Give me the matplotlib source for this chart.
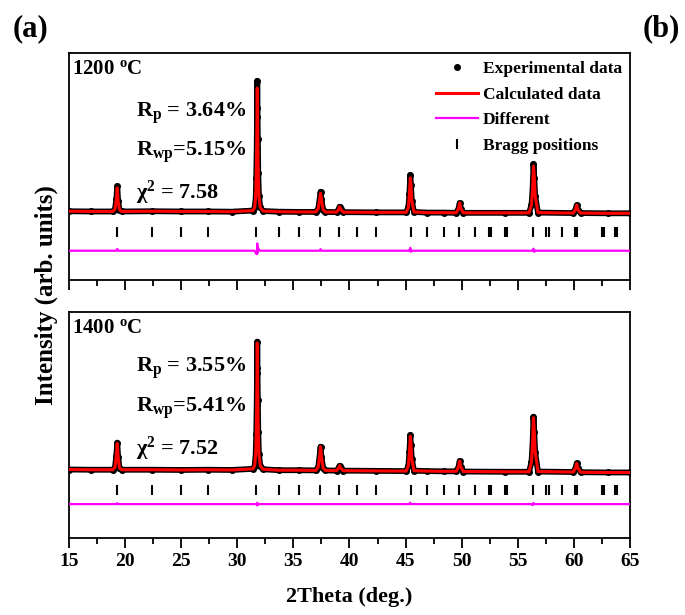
import matplotlib
matplotlib.use("Agg")
import numpy as np
import matplotlib.pyplot as plt

plt.rcParams["font.family"] = ["Liberation Serif", "DejaVu Serif"]
plt.rcParams["font.weight"] = "bold"
plt.rcParams["axes.labelweight"] = "bold"
plt.rcParams["mathtext.fontset"] = "custom"
plt.rcParams["mathtext.rm"] = "Liberation Serif:bold"
plt.rcParams["mathtext.it"] = "Liberation Serif:bold:italic"
plt.rcParams["mathtext.bf"] = "Liberation Serif:bold"

# 2theta grid (deg.) shared by both patterns
tth = [15.0, 17.0, 18.9, 19.1, 19.22, 19.3, 19.38, 19.5, 19.7, 22.4, 25.0, 27.4,
       29.5, 31.4, 31.55, 31.64, 31.69, 31.73, 31.76, 31.78, 31.80, 31.83, 31.87,
       31.93, 32.05, 32.3, 33.7, 35.5, 37.0, 37.22, 37.35, 37.42, 37.5, 37.65,
       37.85, 38.85, 39.05, 39.12, 39.2, 39.45, 42.4, 45.05, 45.25, 45.34, 45.42,
       45.48, 45.55, 45.75, 46.9, 48.4, 49.5, 49.72, 49.82, 49.92, 50.15, 53.9,
       56.0, 56.22, 56.32, 56.4, 56.47, 56.55, 56.8, 59.95, 60.15, 60.25, 60.35,
       60.6, 63.0, 65.0]

obs_1200 = [30.3, 30.2, 30.2, 31.2, 35.5, 41.4, 35.0, 31.0, 30.2, 30.3, 30.2, 30.2,
            30.1, 30.6, 32.0, 36.0, 45.0, 58.0, 72.0, 87.8, 76.0, 62.0, 47.0,
            37.0, 32.0, 30.4, 30.1, 30.0, 30.0, 31.5, 36.0, 38.9, 35.5, 31.0,
            30.0, 29.9, 31.3, 32.3, 31.2, 29.9, 29.8, 29.8, 32.0, 38.0, 46.3,
            42.0, 35.0, 30.0, 29.7, 29.7, 29.6, 31.5, 34.0, 31.5, 29.6, 29.6,
            29.6, 33.0, 40.0, 51.1, 45.0, 37.0, 29.7, 29.5, 31.2, 33.0, 31.0,
            29.5, 29.4, 29.4]
calc_1200 = [30.3, 30.2, 30.2, 31.2, 35.5, 40.6, 35.0, 31.0, 30.2, 30.3, 30.2, 30.2,
             30.1, 30.6, 32.0, 37.0, 46.0, 59.5, 73.5, 84.6, 77.0, 61.0, 46.0,
             36.5, 32.0, 30.4, 30.1, 30.0, 30.0, 31.5, 36.0, 38.2, 35.5, 31.0,
             30.0, 29.9, 31.3, 32.3, 31.2, 29.9, 29.8, 29.8, 32.0, 38.0, 45.0,
             42.5, 35.0, 30.0, 29.7, 29.7, 29.6, 31.5, 34.0, 31.5, 29.6, 29.6,
             29.6, 33.0, 40.0, 50.2, 45.5, 37.0, 29.7, 29.5, 31.2, 33.0, 31.0,
             29.5, 29.4, 29.4]
obs_1400 = [30.3, 30.2, 30.2, 31.3, 36.5, 42.2, 36.0, 31.0, 30.2, 30.2, 30.1, 30.2,
            30.1, 30.6, 32.0, 37.0, 46.0, 59.0, 73.0, 86.9, 75.0, 61.0, 47.0,
            37.0, 32.0, 30.4, 30.0, 30.0, 29.9, 31.5, 37.0, 40.4, 36.0, 31.0,
            29.9, 29.8, 31.2, 32.0, 31.0, 29.8, 29.7, 29.6, 32.0, 38.0, 45.6,
            41.0, 35.0, 29.8, 29.6, 29.5, 29.5, 31.5, 34.1, 31.5, 29.4, 29.3,
            29.3, 33.5, 42.0, 53.7, 47.0, 38.0, 29.4, 29.2, 31.0, 33.0, 31.0,
            29.1, 29.0, 29.0]
calc_1400 = [30.3, 30.2, 30.2, 31.3, 36.5, 41.8, 36.0, 31.0, 30.2, 30.2, 30.1, 30.2,
             30.1, 30.6, 32.0, 37.0, 46.0, 59.0, 73.5, 86.3, 75.5, 61.0, 47.0,
             37.0, 32.0, 30.4, 30.0, 30.0, 29.9, 31.5, 37.0, 40.4, 36.0, 31.0,
             29.9, 29.8, 31.2, 32.0, 31.0, 29.8, 29.7, 29.6, 32.0, 38.0, 45.0,
             41.0, 35.0, 29.8, 29.6, 29.5, 29.5, 31.5, 34.1, 31.5, 29.4, 29.3,
             29.3, 33.5, 42.5, 53.2, 47.0, 38.0, 29.4, 29.2, 31.0, 33.0, 31.0,
             29.1, 29.0, 29.0]
diff_offset = [12.9, 15.0]

bragg = [19.3, 22.4, 25.0, 27.4, 31.7, 33.7, 35.5, 37.4, 39.1, 40.7, 42.4, 45.45,
         46.9, 48.4, 49.8, 51.15, 52.45, 52.6, 53.85, 54.05, 56.4, 57.55, 57.75,
         58.9, 60.12, 60.28, 62.5, 62.7, 63.65, 63.85]
bragg_y = 21.3

temps = ["1200 $^{\\rm o}$C", "1400 $^{\\rm o}$C"]
rp = ["3.64%", "3.55%"]
rwp = ["5.15%", "5.41%"]
chi2 = ["7.58", "7.52"]

fig = plt.figure(figsize=(6.85, 6.15), dpi=100)
ax_top = fig.add_axes([0.1007, 0.5447, 0.819, 0.369])
ax_bot = fig.add_axes([0.1007, 0.1252, 0.819, 0.3675])

panels = [(ax_top, obs_1200, calc_1200), (ax_bot, obs_1400, calc_1400)]
stat_y = [(0.72, 0.546, 0.36), (0.736, 0.559, 0.37)]

for i, (ax, obs, calc) in enumerate(panels):
    obs = np.array(obs)
    calc = np.array(calc)
    ax.plot(tth, obs, color="k", lw=4.2, solid_joinstyle="round", zorder=2)
    h_obs, = ax.plot(tth, obs, "o", color="k", ms=4, ls="none", zorder=2,
                     label="Experimental data")
    h_calc, = ax.plot(tth, calc, color="#ff0000", lw=2.2, zorder=3,
                      label="Calculated data")
    h_diff, = ax.plot(tth, obs - calc + diff_offset[i], color="#ff00ff", lw=1.6,
                      zorder=3, label="Different")
    h_bragg, = ax.plot(bragg, [bragg_y] * len(bragg), ls="none", marker="|",
                       ms=7.5, mew=1.5, color="k", label="Bragg positions")

    ax.set_xlim(15, 65)
    ax.set_ylim(0, 100)
    ax.set_yticks([])
    ax.set_xticks(np.arange(15, 66, 5))
    ax.set_xticks(np.arange(17.5, 65, 5), minor=True)
    ax.tick_params(axis="x", which="major", direction="out", length=7, width=1.3,
                   labelsize=14, pad=4)
    ax.tick_params(axis="x", which="minor", direction="out", length=4, width=1.3)
    for s in ax.spines.values():
        s.set_linewidth(1.3)

    ax.text(0.006, 0.975, temps[i], transform=ax.transAxes, ha="left", va="top",
            fontsize=15)
    y1, y2, y3 = stat_y[i]
    ax.text(0.119, y1, "R$_{\\rm p}$ = " + rp[i], transform=ax.transAxes,
            ha="left", va="baseline", fontsize=16)
    ax.text(0.119, y2, "R$_{\\rm wp}$=" + rwp[i], transform=ax.transAxes,
            ha="left", va="baseline", fontsize=16)
    ax.text(0.119, y3, "χ$^{2}$ = " + chi2[i], transform=ax.transAxes,
            ha="left", va="baseline", fontsize=16)

    if i == 0:
        ax.tick_params(axis="x", labelbottom=False)
        ax.legend(handles=[h_obs, h_calc, h_diff, h_bragg], loc="upper right",
                  frameon=False, fontsize=12.5, handlelength=2.4,
                  handletextpad=0.3, labelspacing=0.55, borderaxespad=0.35,
                  borderpad=0.1)

ax_bot.set_xlabel("2Theta (deg.)", fontsize=16, fontweight="bold", labelpad=12)
fig.text(0.067, 0.52, "Intensity (arb. units)", rotation=90, ha="center",
         va="center", fontsize=18)
fig.text(0.045, 0.953, "(a)", ha="center", va="center", fontsize=22)
fig.text(0.966, 0.953, "(b)", ha="center", va="center", fontsize=22)

fig.savefig("out.png", dpi=100)
plt.close(fig)
